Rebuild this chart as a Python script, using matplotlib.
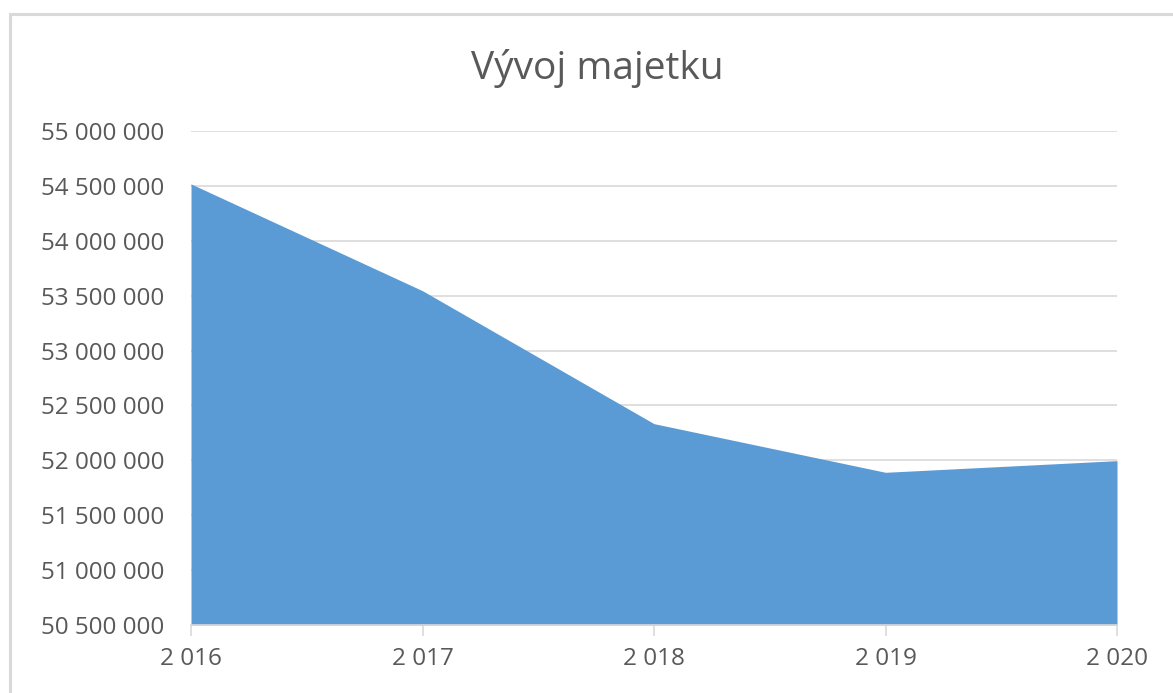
import matplotlib
matplotlib.use("Agg")
import matplotlib.pyplot as plt
from matplotlib.patches import Rectangle
from matplotlib.ticker import FuncFormatter, MultipleLocator

years = [2016, 2017, 2018, 2019, 2020]
values = [54518000, 53545000, 52334000, 51891000, 51997000]
year_labels = ["2 016", "2 017", "2 018", "2 019", "2 020"]
title = "Vývoj majetku"

plt.rcParams['font.family'] = ['Open Sans', 'DejaVu Sans']

W, H = 1173, 693
fig = plt.figure(figsize=(W / 100, H / 100), dpi=100)
fig.patch.set_facecolor("white")

# chart area border (cropped at right/bottom)
fig.patches.append(Rectangle((9.5 / W, -0.1), 1.2, (H - 14) / H + 0.1,
                             transform=fig.transFigure, fill=False,
                             edgecolor="#d9d9d9", linewidth=2.2))

ax = fig.add_axes([191 / W, 1 - 625 / H, (1117 - 191) / W, (625 - 131) / H])
x = list(range(len(years)))
ax.fill_between(x, values, 50500000, color="#5b9bd5", linewidth=0, zorder=2)
ax.set_xlim(0, len(years) - 1)
ax.set_ylim(50500000, 55000000)
ax.yaxis.set_major_locator(MultipleLocator(500000))
ax.yaxis.set_major_formatter(FuncFormatter(lambda v, p: f"{int(round(v)):,}".replace(",", " ")))
ax.grid(axis="y", color="#d9d9d9", linewidth=1.2, zorder=1)
ax.set_xticks(x)
ax.set_xticklabels(year_labels)
for s in ["top", "right", "left"]:
    ax.spines[s].set_visible(False)
ax.spines["bottom"].set_color("#d9d9d9")
ax.spines["bottom"].set_linewidth(1.2)
ax.spines["bottom"].set_zorder(3)
ax.tick_params(axis="y", length=0, pad=19, labelsize=17.5, labelcolor="#595959")
ax.tick_params(axis="x", length=8, color="#d9d9d9", width=1.2, pad=8,
               labelsize=17.5, labelcolor="#595959")
for lbl in ax.get_yticklabels():
    lbl.set_horizontalalignment("right")

fig.text(597 / W, 1 - 69 / H, title, ha="center", va="center",
         fontsize=28, color="#595959")

fig.savefig("out.png", dpi=100, facecolor="white")
